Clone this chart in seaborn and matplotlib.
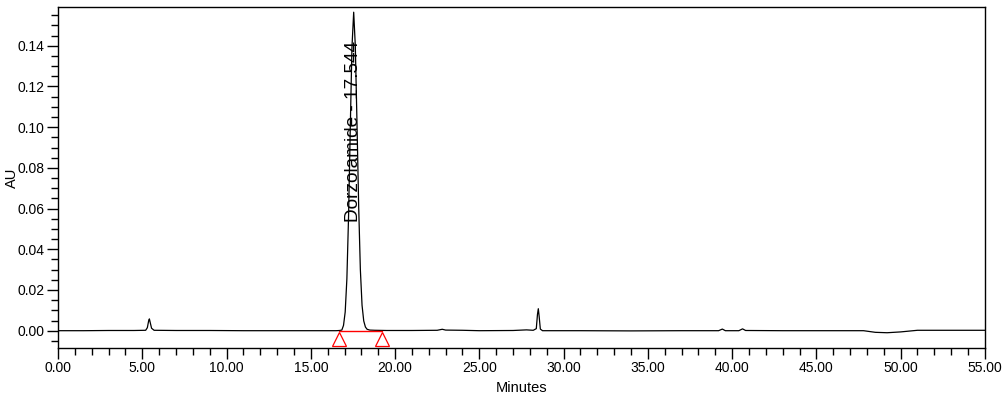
import matplotlib
matplotlib.use("Agg")
import matplotlib.pyplot as plt
import seaborn as sns
import pandas as pd
from matplotlib.ticker import MultipleLocator, FormatStrFormatter

# ---- data ----
time_min = [0.0, 1.5, 3.0, 4.5, 5.2, 5.3, 5.38, 5.42, 5.47, 5.55, 5.7, 7.0, 9.0, 11.0,
            13.0, 15.0, 16.0, 16.5, 16.7, 16.84, 16.94, 17.04, 17.14, 17.24, 17.34,
            17.44, 17.544, 17.64, 17.74, 17.84, 17.94, 18.04, 18.14, 18.24, 18.34,
            18.5, 18.8, 19.5, 21.0, 22.5, 22.8, 23.0, 24.0, 25.0, 27.0, 27.8, 28.2,
            28.38, 28.45, 28.5, 28.55, 28.62, 28.75, 31.0, 34.0, 37.0, 39.2, 39.42,
            39.6, 40.4, 40.62, 40.8, 43.0, 46.0, 47.8, 48.5, 49.2, 50.0, 51.0, 53.0, 55.0]
absorbance = [0.0000, 0.0000, 0.0001, 0.0001, 0.0002, 0.0015, 0.0050, 0.0058, 0.0040,
              0.0012, 0.0002, 0.0001, 0.0001, 0.0000, 0.0000, 0.0000, 0.0000, 0.0000,
              0.0001, 0.0003, 0.0026, 0.0092, 0.0255, 0.0562, 0.0990, 0.1390, 0.1565,
              0.1400, 0.1020, 0.0610, 0.0300, 0.0125, 0.0048, 0.0018, 0.0007, 0.0003,
              0.0002, 0.0001, 0.0001, 0.0002, 0.0007, 0.0003, 0.0002, 0.0000, 0.0001,
              0.0004, 0.0002, 0.0010, 0.0080, 0.0108, 0.0070, 0.0008, 0.0000, 0.0000,
              -0.0001, 0.0000, 0.0000, 0.0008, 0.0000, 0.0000, 0.0009, 0.0001, 0.0000,
              0.0000, 0.0000, -0.0008, -0.0010, -0.0006, 0.0002, 0.0002, 0.0002]

peak_name = "Dorzolamide"
peak_rt = 17.544
integration_start = 16.69
integration_end = 19.25
marker_level = -0.0039
label_base = 0.0535

x_ticks = [0, 5, 10, 15, 20, 25, 30, 35, 40, 45, 50, 55]
y_ticks = [0.00, 0.02, 0.04, 0.06, 0.08, 0.10, 0.12, 0.14]

sns.set_theme(style="white")
plt.rcParams['font.family'] = ['Liberation Sans', 'DejaVu Sans']

df = pd.DataFrame({"Minutes": time_min, "AU": absorbance})

fig = plt.figure(figsize=(10.06, 3.95), dpi=100)
ax = fig.add_axes([0.0577, 0.119, 0.9213, 0.863])

sns.lineplot(data=df, x="Minutes", y="AU", ax=ax, color="black", linewidth=0.9,
             estimator=None, sort=True)

# integration baseline and markers
ax.plot([integration_start, integration_end], [0, 0], color="red", linewidth=1.0)
ax.plot([integration_start, integration_end], [marker_level, marker_level],
        linestyle="none", marker="^", markersize=10, markerfacecolor="none",
        markeredgecolor="red", markeredgewidth=0.9)

ax.text(peak_rt, label_base, f"{peak_name} - {peak_rt:.3f}", rotation=90,
        ha="center", va="bottom", fontsize=13.7, color="black")

ax.set_xlim(0, 55)
ax.set_ylim(-0.0085, 0.159)
ax.set_xticks(x_ticks)
ax.set_yticks(y_ticks)
ax.xaxis.set_major_formatter(FormatStrFormatter("%.2f"))
ax.yaxis.set_major_formatter(FormatStrFormatter("%.2f"))
ax.xaxis.set_minor_locator(MultipleLocator(1))
ax.yaxis.set_minor_locator(MultipleLocator(0.005))
ax.tick_params(axis="both", which="major", direction="out", length=8, width=1,
               labelsize=10, color="black", labelcolor="black", pad=1.5,
               bottom=True, left=True)
ax.tick_params(axis="both", which="minor", direction="out", length=5, width=1,
               color="black", bottom=True, left=True)
for s in ax.spines.values():
    s.set_color("black")
    s.set_linewidth(1.0)

ax.set_xlabel("")
ax.set_ylabel("")
fig.text(0.5186, 0.0177, "Minutes", fontsize=10.5, color="black",
         ha="center", va="center")
fig.text(0.0115, 0.549, "AU", fontsize=10.5, color="black", rotation=90,
         ha="center", va="center")

fig.savefig("out.png", dpi=100)
